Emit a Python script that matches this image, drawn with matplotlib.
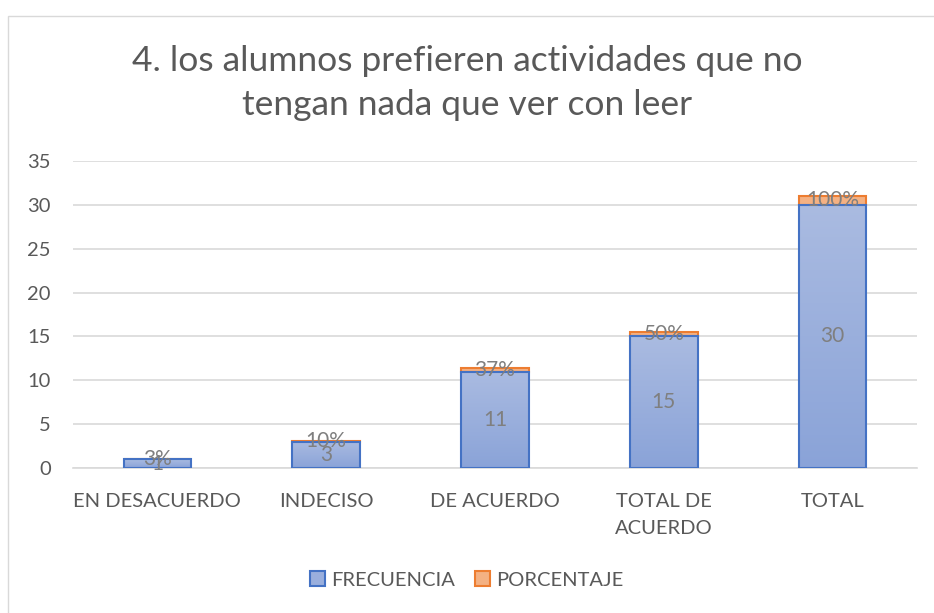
import matplotlib
matplotlib.use("Agg")
import matplotlib.pyplot as plt
import numpy as np
from matplotlib.patches import Rectangle, Patch
from matplotlib.colors import LinearSegmentedColormap

categories = ["EN DESACUERDO", "INDECISO", "DE ACUERDO", "TOTAL DE\nACUERDO", "TOTAL"]
frecuencia = [1, 3, 11, 15, 30]
porcentaje = [0.03, 0.10, 0.37, 0.50, 1.00]
pct_labels = ["3%", "10%", "37%", "50%", "100%"]
title = "4. los alumnos prefieren actividades que no\ntengan nada que ver con leer"

plt.rcParams['font.family'] = ['Lato', 'DejaVu Sans']
TXT = "#595959"
LBL = "#7f7f7f"

W, H = 934, 613
fig = plt.figure(figsize=(W/100, H/100), dpi=100)
# chart border
fig.patches.append(Rectangle((8/W, -0.1), 1.2, (H-16)/H + 0.1, transform=fig.transFigure,
                             fill=False, edgecolor="#d9d9d9", linewidth=1.0))

ax = fig.add_axes([73/W, 1-468/H, (917-73)/W, (468-161)/H])
x = np.arange(len(categories))
bw = 0.4

bars1 = ax.bar(x, frecuencia, width=bw, color="#9aafdd", edgecolor="#4472c4", linewidth=1.5, zorder=3)
bars2 = ax.bar(x, porcentaje, width=bw, bottom=frecuencia, color="#f4b183", edgecolor="#ed7d31",
               linewidth=1.5, zorder=3)

# gradient fill for blue bars
grad = np.linspace(0, 1, 256).reshape(-1, 1)
cmap = LinearSegmentedColormap.from_list("g", ["#8aa3d8", "#aabbe1"])
for b in bars1:
    bx, by, bwid, bh = b.get_x(), b.get_y(), b.get_width(), b.get_height()
    im = ax.imshow(grad, extent=[bx, bx+bwid, by, by+bh], origin="lower", cmap=cmap,
                   aspect="auto", zorder=3.5)
    im.set_clip_path(b)
    b.set_facecolor("none")
    b.set_zorder(4)

for i in range(len(categories)):
    ax.text(x[i], frecuencia[i]/2, str(frecuencia[i]), ha="center", va="center",
            fontsize=15, color=LBL, zorder=6)
    ax.text(x[i], frecuencia[i] + porcentaje[i]/2, pct_labels[i], ha="center", va="center",
            fontsize=15, color=LBL, zorder=6)

ax.set_xlim(-0.5, len(categories)-0.5)
ax.set_ylim(0, 35)
ax.set_yticks(np.arange(0, 36, 5))
ax.yaxis.grid(True, color="#d9d9d9", linewidth=1.2, zorder=0)
ax.set_axisbelow(True)
for s in ["top", "right", "left"]:
    ax.spines[s].set_visible(False)
ax.spines["bottom"].set_color("#d9d9d9")
ax.spines["bottom"].set_linewidth(1.2)
ax.tick_params(axis="both", length=0, labelsize=14.5, labelcolor=TXT)
ax.tick_params(axis="y", pad=16)
ax.tick_params(axis="x", pad=18)
ax.set_xticks(x)
ax.set_xticklabels(categories, linespacing=1.75)

fig.text(0.5, 1-83/H, title, ha="center", va="center", fontsize=25.5, color=TXT, linespacing=1.45)

handles = [Patch(facecolor="#9aafdd", edgecolor="#4472c4", linewidth=1.5, label="FRECUENCIA"),
           Patch(facecolor="#f4b183", edgecolor="#ed7d31", linewidth=1.5, label="PORCENTAJE")]
fig.legend(handles=handles, loc="center", bbox_to_anchor=(0.5, 1-580/H), ncol=2, frameon=False,
           fontsize=14.5, labelcolor=TXT, handlelength=0.75, handleheight=0.75, handletextpad=0.3,
           columnspacing=1.0)

fig.savefig("out.png", dpi=100)
